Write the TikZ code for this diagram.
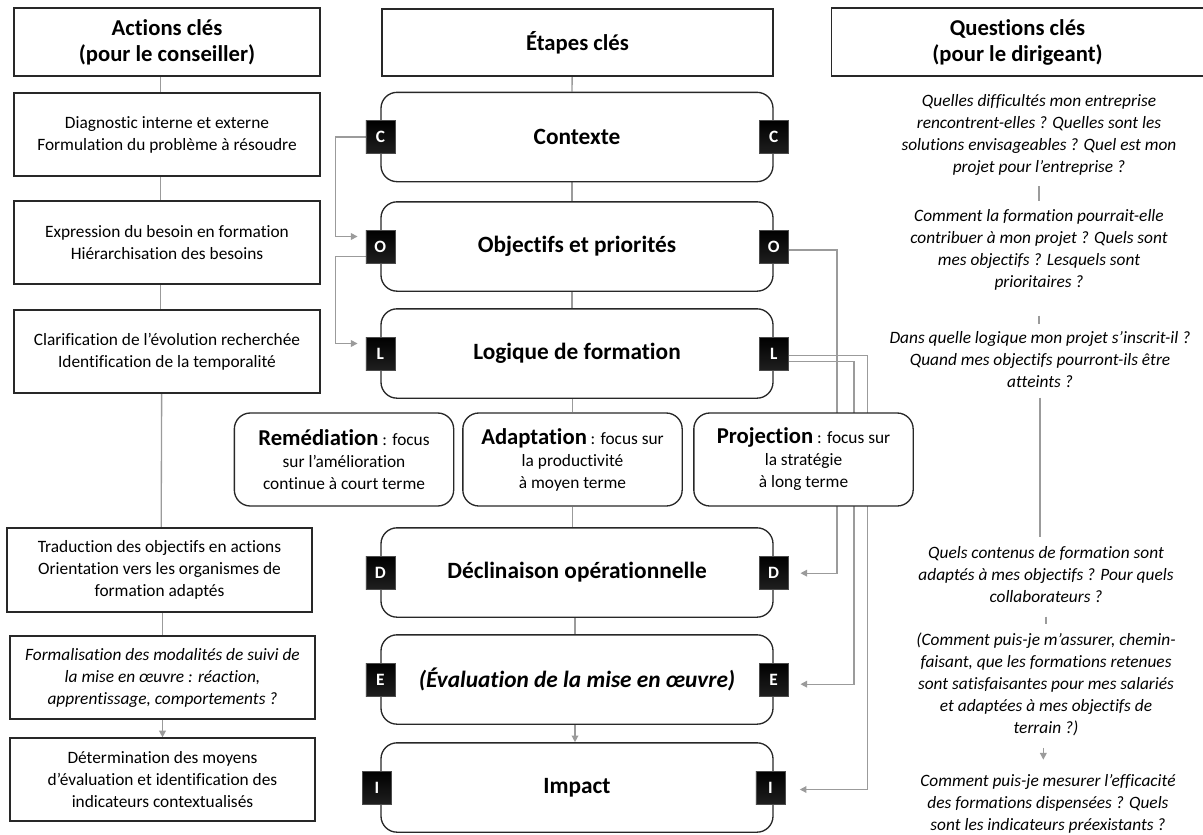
\documentclass[tikz,border=0pt]{standalone}
\usepackage{fontspec}
\setmainfont{Carlito}[Ligatures=NoCommon]
\usetikzlibrary{arrows.meta,backgrounds,calc}
\definecolor{lgray}{RGB}{155,155,155}
\definecolor{bord}{RGB}{40,40,40}
\newcommand\mbigword{\bfseries\fontsize{17}{20}\selectfont}
\begin{document}
\begin{tikzpicture}[x=0.75pt,y=-0.75pt,
  hdr/.style={draw=bord, line width=1pt, fill=white, align=center, inner sep=0pt,
    font=\bfseries\fontsize{17}{19.5}\selectfont},
  abox/.style={draw=bord, line width=0.9pt, fill=white, align=center, inner sep=0pt,
    minimum width=229.5pt, minimum height=62.25pt, font=\fontsize{13}{16.5}\selectfont},
  stepbox/.style={draw=bord, line width=1pt, fill=white, rounded corners=12pt,
    minimum width=294pt, minimum height=67pt, align=center, inner sep=0pt,
    font=\bfseries\fontsize{17.5}{20}\selectfont},
  mbox/.style={draw=bord, line width=1pt, fill=white, rounded corners=12pt,
    minimum width=164.5pt, minimum height=69.75pt, align=center, inner sep=0pt,
    font=\fontsize{13}{16.5}\selectfont},
  badge/.style={draw=black!70, line width=0.4pt, top color=black, bottom color=black!88,
    minimum width=21.75pt, minimum height=24.75pt, inner sep=0pt,
    text=white, font=\bfseries\fontsize{13}{15}\selectfont},
  qtext/.style={align=center, inner sep=0pt, font=\itshape\fontsize{13}{16.5}\selectfont},
  gline/.style={draw=lgray, line width=1pt},
  garrow/.style={gline, -{Triangle[length=5pt,width=5pt]}}
]
\useasboundingbox (0,0) rectangle (1203,835);

% headers
\node[hdr, minimum width=229.5pt, minimum height=51pt] (hA) at (167,42) {Actions clés\\(pour le conseiller)};
\node[hdr, minimum width=293.25pt, minimum height=50.25pt] (hE) at (577.5,42.5) {Étapes clés};
\node[hdr, minimum width=279pt, minimum height=51pt] (hQ) at (1017.5,42) {Questions clés\\(pour le dirigeant)};

% left column
\node[abox] (a1) at (167,134.5) {Diagnostic interne et externe\\Formulation du problème à résoudre};
\node[abox] (a2) at (167,242.5) {Expression du besoin en formation\\Hiérarchisation des besoins};
\node[abox] (a3) at (167,351.5) {Clarification de l’évolution recherchée\\Identification de la temporalité};
\node[abox, minimum width=228.75pt, minimum height=63pt] (a4) at (159.5,570) {Traduction des objectifs en actions\\Orientation vers les organismes de\\formation adaptés};
\node[abox, minimum width=228.75pt] (a5) at (162.5,677.5) {\itshape Formalisation des modalités de suivi de\\\itshape la mise en œuvre : réaction,\\\itshape apprentissage, comportements ?};
\node[abox, minimum width=228.75pt] (a6) at (162.5,779.5) {Détermination des moyens\\d’évaluation et identification des\\indicateurs contextualisés};

% middle steps
\node[stepbox] (s1) at (577,137) {Contexte};
\node[stepbox] (s2) at (577,246.5) {Objectifs et priorités};
\node[stepbox] (s3) at (577,353.5) {Logique de formation};
\node[stepbox] (s4) at (577,572.5) {Déclinaison opérationnelle};
\node[stepbox] (s5) at (577,679.5) {\itshape (Évaluation de la mise en œuvre)};
\node[stepbox] (s6) at (577,787.5) {Impact};

\node[mbox] (m1) at (344,459.5) {{\mbigword Remédiation} : focus\\sur l’amélioration\\continue à court terme};
\node[mbox] (m2) at (572.5,459.5) {{\mbigword Adaptation} : focus sur\\la productivité\\à moyen terme};
\node[mbox] (m3) at (803.5,459.5) {{\mbigword Projection} : focus sur\\la stratégie\\à long terme};

% badges
\node[badge] (bl1) at (s1.west) {C};
\node[badge] (br1) at (s1.east) {C};
\node[badge] (bl2) at (s2.west) {O};
\node[badge] (br2) at (s2.east) {O};
\node[badge] (bl3) at (s3.west) {L};
\node[badge] (br3) at (s3.east) {L};
\node[badge] (bl4) at (s4.west) {D};
\node[badge] (br4) at (s4.east) {D};
\node[badge] (bl5) at (s5.west) {E};
\node[badge] (br5) at (s5.east) {E};
\node[badge] (bl6) at ([xshift=-2.5pt]s6.west) {I};
\node[badge] (br6) at ([xshift=-2.5pt]s6.east) {I};

% right column questions
\node[qtext] (q1) at (1039,135) {Quelles difficultés mon entreprise\\rencontrent-elles ? Quelles sont les\\solutions envisageables ? Quel est mon\\projet pour l’entreprise ?};
\node[qtext] (q2) at (1039,249.5) {Comment la formation pourrait-elle\\contribuer à mon projet ? Quels sont\\mes objectifs ? Lesquels sont\\prioritaires ?};
\node[qtext] (q3) at (1040,360) {Dans quelle logique mon projet s’inscrit-il ?\\Quand mes objectifs pourront-ils être\\atteints ?};
\node[qtext] (q4) at (1046,575) {Quels contenus de formation sont\\adaptés à mes objectifs ? Pour quels\\collaborateurs ?};
\node[qtext] (q5) at (1046,684) {(Comment puis-je m’assurer, chemin-\\faisant, que les formations retenues\\sont satisfaisantes pour mes salariés\\et adaptées à mes objectifs de\\terrain ?)};
\node[qtext] (q6) at (1048,804) {Comment puis-je mesurer l’efficacité\\des formations dispensées ? Quels\\sont les indicateurs préexistants ?};

\begin{scope}[on background layer]
% left column connectors
\draw[gline] ([xshift=-5pt]hA.south) -- ([xshift=-5pt]a1.north);
\draw[gline] ([xshift=-5pt]a1.south) -- ([xshift=-5pt]a2.north);
\draw[gline] ([xshift=-5pt]a2.south) -- ([xshift=-5pt]a3.north);
\draw[gline] ([xshift=-4pt]a3.south) -- ([xshift=1.25pt]a4.north);
\draw[gline] ([xshift=2.25pt]a4.south) -- (a5.north);
\draw[garrow] (a5.south) -- (a6.north);

% middle connectors
\draw[gline] ([xshift=-4pt]hE.south) -- ([xshift=-3.75pt]s1.north);
\draw[gline] ([xshift=-3.75pt]s1.south) -- ([xshift=-3.75pt]s2.north);
\draw[gline] ([xshift=-3.75pt]s2.south) -- ([xshift=-3.75pt]s3.north);
\draw[gline] (s3.south -| m2.north) -- (m2.north);
\draw[gline] (m2.south) -- (m2.south |- s4.north);
\draw[gline] ([xshift=-1.5pt]s4.south) -- ([xshift=-1.5pt]s5.north);
\draw[garrow] ([xshift=-1.5pt]s5.south) -- ([xshift=-1.5pt]s6.north);

% left badge loops
\draw[garrow, shorten >=6pt] (bl1.west) -- ++(-30,0) |- ([yshift=7.5pt]bl2.west);
\draw[garrow, shorten >=6pt] ([yshift=-7.5pt]bl2.west) -- ++(-30,0) |- ([yshift=7.5pt]bl3.west);

% right badge loops
\draw[garrow, shorten >=9pt] ([yshift=-2.5pt]br2.east) -- ++(48.5,0) |- ([yshift=-0.5pt]br4.east);
\draw[garrow, shorten >=9pt] ([yshift=-6pt]br3.east) -- ++(65.5,0) |- ([yshift=-3.5pt]br5.east);
\draw[garrow, shorten >=11pt] ([yshift=-1.5pt]br3.east) -- ++(79,0) |- ([yshift=-1.5pt]br6.east);

% right column separators
\draw[gline, shorten <=8pt, shorten >=6pt] (q1.south) -- (q1.south |- q2.north);
\draw[gline, shorten <=19pt, shorten >=6pt] (q2.south) -- (q2.south |- q3.north);
\draw[gline, shorten <=7pt, shorten >=7pt] (q3.south) -- (q3.south |- q4.north);
\draw[gline, shorten <=10pt, shorten >=6pt] (q4.south) -- (q4.south |- q5.north);
\draw[garrow, shorten <=9pt, shorten >=11pt] ([xshift=-2pt]q5.south) -- ([xshift=-2pt]q5.south |- q6.north);
\end{scope}
\end{tikzpicture}
\end{document}
